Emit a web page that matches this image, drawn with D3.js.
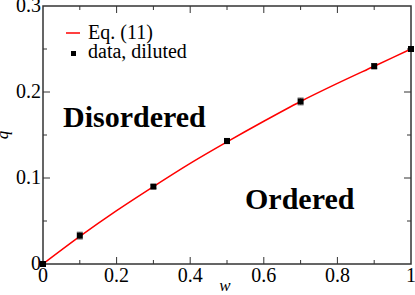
<!DOCTYPE html>
<html>
<head>
<meta charset="utf-8">
<script src="https://cdn.jsdelivr.net/npm/d3@7"></script>
<style>
body { margin: 0; background: #fff; }
svg { display: block; }
</style>
</head>
<body>
<svg id="chart"></svg>
<script>
var width = 415;
var height = 295;
var font = "'Liberation Serif', 'Times New Roman', Times, serif";

// curve Eq. (11)
var curveW = [0, 0.1, 0.2, 0.3, 0.4, 0.5, 0.6, 0.7, 0.8, 0.9, 1.0];
var curveQ = [0, 0.032, 0.062, 0.090, 0.117, 0.142, 0.166, 0.189, 0.210, 0.230, 0.250];

// data, diluted
var dataW = [0, 0.1, 0.3, 0.5, 0.7, 0.9, 1.0];
var dataQ = [0, 0.033, 0.090, 0.143, 0.189, 0.230, 0.250];
var dataErr = [0.001, 0.004, 0.002, 0.003, 0.004, 0.003, 0.001];

var xTicks = [0, 0.2, 0.4, 0.6, 0.8, 1];
var xTickLabels = ["0", "0.2", "0.4", "0.6", "0.8", "1"];
var yTicks = [0, 0.1, 0.2, 0.3];
var yTickLabels = ["0", "0.1", "0.2", "0.3"];

// plot box (named to avoid window.top)
var pLeft = 43, pRight = 411, pTop = 6, pBottom = 264;

var x = d3.scaleLinear().domain([0, 1]).range([pLeft, pRight]);
var y = d3.scaleLinear().domain([0, 0.3]).range([pBottom, pTop]);

var svg = d3.select("#chart").attr("width", width).attr("height", height)
	.attr("font-family", font);

// frame
svg.append("rect").attr("x", pLeft).attr("y", pTop)
	.attr("width", pRight - pLeft).attr("height", pBottom - pTop)
	.attr("fill", "none").attr("stroke", "#333").attr("stroke-width", 1.5);

// ticks (inward on all sides)
var xMinor = [0.1, 0.3, 0.5, 0.7, 0.9];
var yMinor = [0.05, 0.15, 0.25];

function addTicks(vals, len) {
	vals.forEach(function (v) {
		svg.append("line").attr("x1", x(v)).attr("x2", x(v)).attr("y1", pBottom).attr("y2", pBottom - len)
			.attr("stroke", "#333");
		svg.append("line").attr("x1", x(v)).attr("x2", x(v)).attr("y1", pTop).attr("y2", pTop + len)
			.attr("stroke", "#333");
	});
}
function addYTicks(vals, len) {
	vals.forEach(function (v) {
		svg.append("line").attr("y1", y(v)).attr("y2", y(v)).attr("x1", pLeft).attr("x2", pLeft + len)
			.attr("stroke", "#333");
		svg.append("line").attr("y1", y(v)).attr("y2", y(v)).attr("x1", pRight).attr("x2", pRight - len)
			.attr("stroke", "#333");
	});
}
addTicks(xTicks.slice(1, -1), 7);
addTicks(xMinor, 4);
addYTicks(yTicks.slice(1, -1), 7);
addYTicks(yMinor, 4);

// tick labels
svg.selectAll(".xl").data(xTicks).enter().append("text")
	.attr("x", d => x(d)).attr("y", pBottom + 18)
	.attr("text-anchor", "middle").attr("font-size", 20)
	.text((d, i) => xTickLabels[i]);

svg.selectAll(".yl").data(yTicks).enter().append("text")
	.attr("x", pLeft - 2).attr("y", d => y(d) + 6)
	.attr("text-anchor", "end").attr("font-size", 20)
	.text((d, i) => yTickLabels[i]);

// axis titles
svg.append("text").attr("x", 225).attr("y", 291).attr("text-anchor", "middle")
	.attr("font-size", 17).attr("font-style", "italic").text("w");
svg.append("text").attr("x", 8).attr("y", 135).attr("text-anchor", "middle")
	.attr("font-size", 17).attr("font-style", "italic")
	.attr("transform", "rotate(-90,8,135)").text("q");

// curve
var line = d3.line().x((d, i) => x(curveW[i])).y(d => y(d)).curve(d3.curveMonotoneX);
svg.append("path").datum(curveQ).attr("d", line)
	.attr("fill", "none").attr("stroke", "#ff0000").attr("stroke-width", 1.5);

// error bars
dataW.forEach(function (w, i) {
	var y1 = y(dataQ[i] - dataErr[i]), y2 = y(dataQ[i] + dataErr[i]);
	svg.append("line").attr("x1", x(w)).attr("x2", x(w)).attr("y1", y1).attr("y2", y2).attr("stroke", "#666");
	[y1, y2].forEach(function (yy) {
		svg.append("line").attr("x1", x(w) - 3).attr("x2", x(w) + 3).attr("y1", yy).attr("y2", yy).attr("stroke", "#666");
	});
});

// points
svg.selectAll(".pt").data(dataW).enter().append("rect")
	.attr("x", d => x(d) - 3).attr("y", (d, i) => y(dataQ[i]) - 3)
	.attr("width", 6).attr("height", 6).attr("fill", "#000");

// legend
svg.append("line").attr("x1", 66).attr("x2", 80).attr("y1", 33).attr("y2", 33)
	.attr("stroke", "#ff0000").attr("stroke-width", 1.5);
svg.append("text").attr("x", 88).attr("y", 39).attr("font-size", 20).text("Eq. (11)");
svg.append("rect").attr("x", 71).attr("y", 51).attr("width", 5).attr("height", 5).attr("fill", "#000");
svg.append("text").attr("x", 88).attr("y", 58).attr("font-size", 20).text("data, diluted");

// region labels
svg.append("text").attr("x", 63).attr("y", 127).attr("font-size", 30).attr("font-weight", "bold").text("Disordered");
svg.append("text").attr("x", 245).attr("y", 209).attr("font-size", 30).attr("font-weight", "bold").text("Ordered");
</script>
</body>
</html>
